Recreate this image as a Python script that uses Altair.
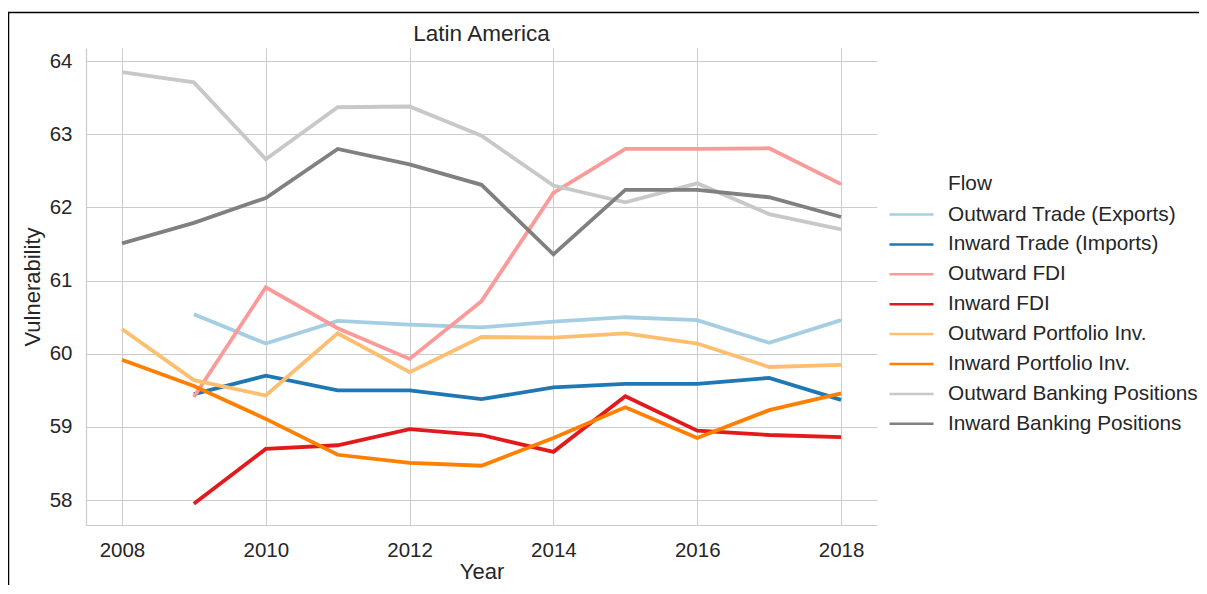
import altair as alt
import pandas as pd

years = [2008, 2009, 2010, 2011, 2012, 2013, 2014, 2015, 2016, 2017, 2018]
flows = [
    "Outward Trade (Exports)",
    "Inward Trade (Imports)",
    "Outward FDI",
    "Inward FDI",
    "Outward Portfolio Inv.",
    "Inward Portfolio Inv.",
    "Outward Banking Positions",
    "Inward Banking Positions",
]
colors = ["#a6cee3", "#1f78b4", "#fb9a99", "#e31a1c", "#fdbf6f", "#ff7f00", "#c8c8c8", "#808080"]

outward_trade = [None, 60.54, 60.14, 60.45, 60.40, 60.36, 60.44, 60.50, 60.46, 60.15, 60.46]
inward_trade = [None, 59.45, 59.70, 59.50, 59.50, 59.38, 59.54, 59.59, 59.59, 59.67, 59.37]
outward_fdi = [None, 59.41, 60.91, 60.35, 59.93, 60.72, 62.20, 62.80, 62.80, 62.81, 62.32]
inward_fdi = [None, 57.95, 58.70, 58.75, 58.97, 58.89, 58.66, 59.42, 58.95, 58.89, 58.86]
outward_portfolio = [60.34, 59.64, 59.43, 60.28, 59.75, 60.23, 60.22, 60.28, 60.14, 59.82, 59.85]
inward_portfolio = [59.92, 59.56, 59.11, 58.62, 58.51, 58.47, 58.85, 59.27, 58.85, 59.23, 59.46]
outward_banking = [63.85, 63.71, 62.66, 63.37, 63.38, 62.98, 62.30, 62.07, 62.33, 61.91, 61.70]
inward_banking = [61.51, 61.79, 62.13, 62.80, 62.59, 62.31, 61.36, 62.24, 62.24, 62.14, 61.87]

series = [outward_trade, inward_trade, outward_fdi, inward_fdi,
          outward_portfolio, inward_portfolio, outward_banking, inward_banking]

rows = []
for i, (name, vals) in enumerate(zip(flows, series)):
    for y, v in zip(years, vals):
        if v is not None:
            rows.append({"Year": y, "Vulnerability": v, "Flow": name, "order": i})
df = pd.DataFrame(rows)

FONT = "Liberation Sans"
TXT = "#262626"
GRID = "#cccccc"
W, H = 791, 477

lines = alt.Chart(df).mark_line(strokeWidth=3.8, clip=False).encode(
    x=alt.X("Year:Q",
            scale=alt.Scale(domain=[2007.5, 2018.5], nice=False, zero=False),
            axis=alt.Axis(values=[2008, 2010, 2012, 2014, 2016, 2018], format="d",
                          title="Year", labelPadding=15, titlePadding=1)),
    y=alt.Y("Vulnerability:Q",
            scale=alt.Scale(domain=[57.66, 64.18], nice=False, zero=False),
            axis=alt.Axis(values=[58, 59, 60, 61, 62, 63, 64], format="d",
                          title="Vulnerability", labelPadding=14, titlePadding=5)),
    color=alt.Color("Flow:N",
                    scale=alt.Scale(domain=flows, range=colors),
                    legend=alt.Legend(title=None, orient="none", legendX=814, legendY=155,
                                      symbolType="M-2.2,0H2.2", symbolSize=400,
                                      symbolStrokeWidth=2.5, labelOffset=25,
                                      rowPadding=7.9, padding=0,
                                      labelFontSize=20.8, labelFont=FONT, labelColor=TXT,
                                      labelLimit=400)),
    detail="Flow:N",
    order="order:Q",
)

texts = alt.Chart(alt.Data(values=[{"t": "Flow"}])).mark_text(
    align="left", baseline="middle", fontSize=20.8, font=FONT, color=TXT
).encode(x=alt.value(862), y=alt.value(136), text="t:N")

title = alt.Chart(alt.Data(values=[{"t": "Latin America"}])).mark_text(
    align="center", baseline="alphabetic", fontSize=22.5, font=FONT, color=TXT
).encode(x=alt.value(W / 2), y=alt.value(-7), text="t:N")

border = alt.Chart(alt.Data(values=[{"a": 1}])).mark_rect(
    fillOpacity=0, stroke="black", strokeWidth=1.5, clip=False
).encode(x=alt.value(-77.5), x2=alt.value(1140), y=alt.value(-35.5), y2=alt.value(560))

chart = alt.layer(lines, texts, title, border).properties(
    width=W, height=H,
    autosize=alt.AutoSizeParams(type="none"),
    padding={"left": 78, "top": 40, "right": 322, "bottom": 60},
    background="white",
).configure_view(stroke=None).configure_axis(
    grid=True, gridColor=GRID, gridWidth=1, domainColor=GRID, domainWidth=1.2,
    ticks=False, labelFont=FONT, labelFontSize=20.5, labelColor=TXT,
    titleFont=FONT, titleFontSize=22, titleColor=TXT, titleFontWeight="normal",
)

chart.save("out.html", embed_options={"renderer": "svg", "actions": False})
